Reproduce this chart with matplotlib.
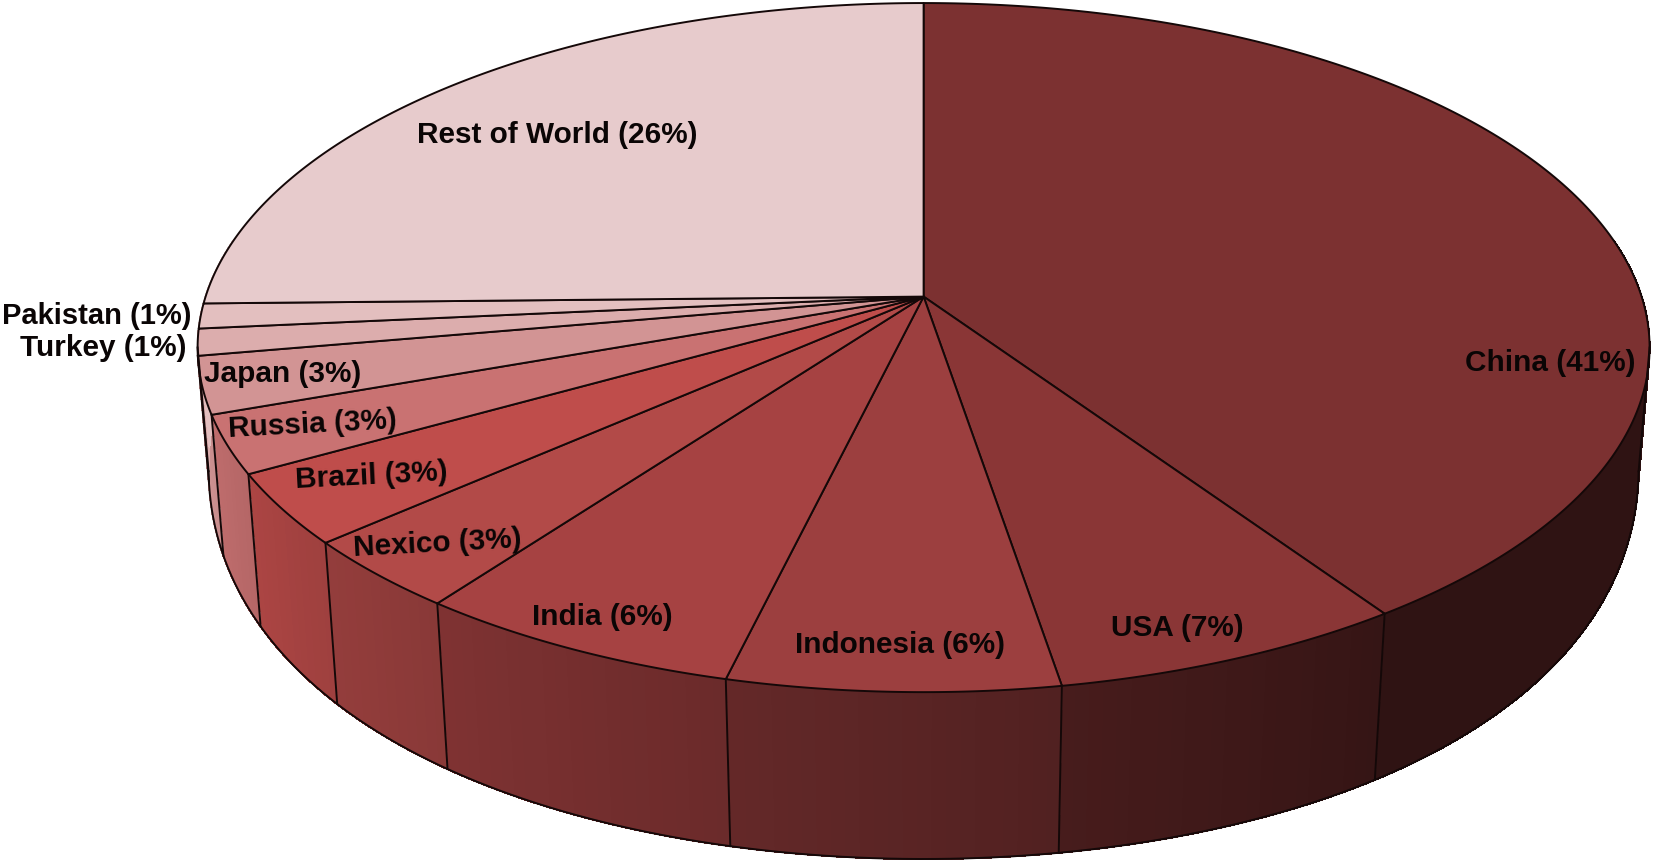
"""3D looking pie chart, drawn with polygons since matplotlib has no perspective pie"""

import numpy as np
import matplotlib
matplotlib.use("Agg")
from matplotlib import pyplot as plt
from matplotlib.collections import PolyCollection

plt.rcParams['font.family'] = ['Liberation Sans', 'DejaVu Sans']

# Values (slice sizes in %, labels as printed)
countries = ['China', 'USA', 'Indonesia', 'India', 'Nexico', 'Brazil', 'Russia',
             'Japan', 'Turkey', 'Pakistan', 'Rest of World']
shares = [40.47, 6.90, 6.42, 6.39, 3.36, 3.33, 2.72, 2.67, 1.25, 1.17, 25.33]
printed_pct = [41, 7, 6, 6, 3, 3, 3, 3, 1, 1, 26]
colors = ['#7c3131', '#8a3636', '#9c3f3f', '#a64242', '#b24a48', '#bf4d4b',
          '#c97272', '#d29494', '#dcadad', '#e3bfbf', '#e7cbcc']

# Where each label goes: x, y, rotation, horizontal alignment
label_places = [(1550, 363, 0, 'center'), (1177, 628, 0, 'center'), (900, 645, 0, 'center'),
                (602, 617, 0, 'center'), (437, 544, 3, 'center'), (371, 476, 3, 'center'),
                (313, 425, 3, 'center'), (283, 374, 0, 'center'), (186, 348, 0, 'right'),
                (192, 316, 0, 'right'), (557, 135, 0, 'center')]

# Perspective of the top and bottom face, in pixels
TOP_X, TOP_Y = 923.6, 296.6
TOP_A, TOP_B, TOP_K = 718, 337, 0.148
BOT_Y = 404
BOT_A, BOT_B, BOT_K = 708, 455, 0.14
LINE = '#140808'
LW = 1.4


def top_rim(deg):
    """Point on the upper rim, `deg` is clockwise from 12 o'clock"""
    t = np.radians(deg)
    x, y = np.sin(t), np.cos(t)
    d = 1 + TOP_K * y
    return TOP_X + TOP_A * x / d, TOP_Y - TOP_B * y / d


def bottom_rim(deg):
    t = np.radians(deg)
    x, y = np.sin(t), np.cos(t)
    return TOP_X + BOT_A * x / (1 + BOT_K * y), BOT_Y - BOT_B * y


def shade(deg):
    # The side gets lighter going clockwise from the right towards the left
    return np.clip(0.38 + (deg - 145) * 0.62 / 115, 0.38, 1.0)


fig = plt.figure(figsize=(16.55, 8.64), dpi=100)
ax = fig.add_axes([0, 0, 1, 1])
ax.set_xlim(0, 1655)
ax.set_ylim(864, 0)
ax.axis('off')

edges = np.concatenate([[0], np.cumsum(shares)]) * 3.6
edges[-1] = 360

# Side wall first, the top face covers what is behind it
side_polys, side_cols = [], []
for i, c in enumerate(colors):
    start, end = edges[i], edges[i + 1]
    if end < 80 or start > 280:
        continue
    steps = np.arange(max(start, 80), min(end, 280) + 0.01, 1.0)
    steps = np.append(steps, min(end, 280))
    for a0, a1 in zip(steps[:-1], steps[1:]):
        if a1 <= a0:
            continue
        x0, y0 = top_rim(a0)
        x1, y1 = top_rim(a1)
        x2, y2 = bottom_rim(a1)
        x3, y3 = bottom_rim(a0)
        side_polys.append([(x0, y0), (x1, y1), (x2, y2), (x3, y3)])
        side_cols.append(np.array(matplotlib.colors.to_rgb(c)) * shade((a0 + a1) / 2))
# No antialiasing here, otherwise the seams between the strips show up as bands
ax.add_collection(PolyCollection(side_polys, facecolors=side_cols, edgecolors=side_cols,
                                 linewidths=0.8, antialiaseds=False))

# Bottom outline and the two tangent lines at the far ends
angles = np.linspace(98.5, 261.5, 300)
bx, by = bottom_rim(angles)
ax.plot(bx, by, color=LINE, lw=LW)
for a in [98.5, 261.5]:
    tx, ty = top_rim(a)
    ex, ey = bottom_rim(a)
    ax.plot([tx, ex], [ty, ey], color=LINE, lw=LW)

# Lines between the slices on the side
for e in edges[1:-1]:
    if 98.5 < e < 261.5:
        tx, ty = top_rim(e)
        ex, ey = bottom_rim(e)
        ax.plot([tx, ex], [ty, ey], color=LINE, lw=LW)

# Top face
for i, c in enumerate(colors):
    a = np.linspace(edges[i], edges[i + 1], 200)
    rx, ry = top_rim(a)
    ax.fill(np.r_[TOP_X, rx], np.r_[TOP_Y, ry], facecolor=c, edgecolor=LINE, lw=LW, joinstyle='round')

for name, pct, (x, y, rot, ha) in zip(countries, printed_pct, label_places):
    size = 21 if name == 'Pakistan' else 21.4  # keeps the P inside the figure
    ax.text(x, y, f'{name} ({pct}%)', fontsize=size, fontweight='bold', color='#0a0505',
            ha=ha, va='center', rotation=rot, rotation_mode='anchor')

fig.savefig('out.png', dpi=100, facecolor='white')
